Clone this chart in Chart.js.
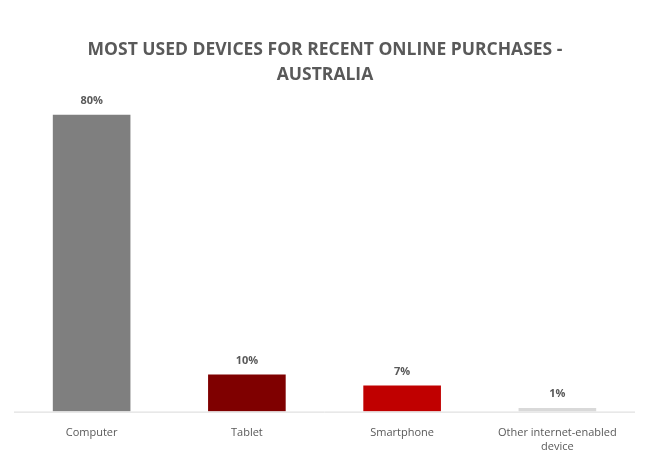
<!DOCTYPE html>
<html><head><meta charset="utf-8">
<script src="https://cdn.jsdelivr.net/npm/chart.js@4"></script>
<style>html,body{margin:0;padding:0;background:#fff}#wrap{width:650px;height:460px}</style>
</head><body><div id="wrap"><canvas id="c"></canvas></div>
<script>
const categories = ["Computer", "Tablet", "Smartphone", ["Other internet-enabled", "device"]];
const values = [80, 10, 7, 1];
const colors = ["#7f7f7f", "#7f0000", "#c00000", "#d9d9d9"];
const titleLines = ["MOST USED DEVICES FOR RECENT ONLINE PURCHASES -", "AUSTRALIA"];

const deco = {
  id: "deco",
  afterDraw(chart) {
    const ctx = chart.ctx;
    ctx.save();
    ctx.fillStyle = "#595959";
    ctx.textAlign = "center";
    ctx.textBaseline = "middle";
    ctx.font = "bold 17.5px 'Open Sans'";
    ctx.fillText(titleLines[0], 325, 50);
    ctx.fillText(titleLines[1], 325, 75);
    ctx.font = "bold 11px 'Open Sans'";
    const meta = chart.getDatasetMeta(0);
    meta.data.forEach((b, i) => {
      ctx.fillText(values[i] + "%", b.x, b.y - 14);
    });
    const a = chart.chartArea;
    ctx.strokeStyle = "#d9d9d9";
    ctx.lineWidth = 1;
    ctx.beginPath();
    ctx.moveTo(a.left, a.bottom + 0.5);
    ctx.lineTo(a.right, a.bottom + 0.5);
    ctx.stroke();
    ctx.restore();
  }
};

new Chart(document.getElementById("c"), {
  type: "bar",
  data: { labels: categories, datasets: [{ data: values, backgroundColor: colors, barPercentage: 0.5, categoryPercentage: 1 }] },
  options: {
    responsive: true, maintainAspectRatio: false, animation: false,
    layout: { padding: { top: 85, left: 14, right: 15, bottom: 0 } },
    plugins: { legend: { display: false }, tooltip: { enabled: false } },
    scales: {
      y: { display: false, min: 0, max: 88 },
      x: { grid: { display: false }, border: { display: false },
           ticks: { color: "#595959", font: { family: "Open Sans", size: 11 }, padding: 7, maxRotation: 0, autoSkip: false } }
    }
  },
  plugins: [deco]
});
</script></body></html>
